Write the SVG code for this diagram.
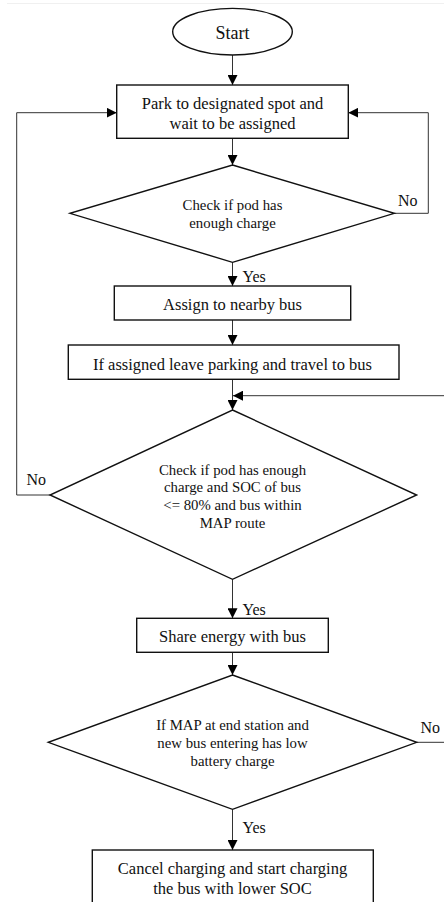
<svg xmlns="http://www.w3.org/2000/svg" width="444" height="902" viewBox="0 0 444 902">
<defs>
<marker id="ah" viewBox="0 0 10 10" refX="10" refY="5" markerWidth="10" markerHeight="10" markerUnits="userSpaceOnUse" orient="auto">
<path d="M0,0 L10,5 L0,10 z" fill="#000"/>
</marker>
<style>
.n{fill:#fff;stroke:#111;stroke-width:1.4}
.c{fill:none;stroke:#333;stroke-width:1}
.t{font-family:"Liberation Serif","Times New Roman",serif;fill:#111;text-anchor:middle;dominant-baseline:central}
.b{font-size:16.5px}
.d{font-size:14.8px}
.l{font-family:"Liberation Serif","Times New Roman",serif;fill:#111;font-size:16px;dominant-baseline:central}
</style>
</defs>
<rect width="444" height="902" fill="#fff"/>
<line x1="7" y1="3.5" x2="444" y2="3.5" stroke="#f0f0f0" stroke-width="1"/>
<g id="connectors">
<line class="c" x1="232.5" y1="55" x2="232.5" y2="85" marker-end="url(#ah)"/>
<line class="c" x1="232.5" y1="138.3" x2="232.5" y2="165" marker-end="url(#ah)"/>
<polyline class="c" points="394.3,213.3 428.3,213.3 428.3,112.7 348.3,112.7" marker-end="url(#ah)"/>
<line class="c" x1="232.5" y1="262.3" x2="232.5" y2="286" marker-end="url(#ah)"/>
<line class="c" x1="232.5" y1="320" x2="232.5" y2="345" marker-end="url(#ah)"/>
<line class="c" x1="232.5" y1="379.3" x2="232.5" y2="410" marker-end="url(#ah)"/>
<polyline class="c" points="50,495 16.7,495 16.7,112.7 116.7,112.7" marker-end="url(#ah)"/>
<line class="c" x1="232.5" y1="579.3" x2="232.5" y2="618.3" marker-end="url(#ah)"/>
<line class="c" x1="232.5" y1="652.3" x2="232.5" y2="675" marker-end="url(#ah)"/>
<polyline class="c" points="416.7,742.3 452,742.3 452,395.7 233,395.7" marker-end="url(#ah)"/>
<line class="c" x1="232.5" y1="809.3" x2="232.5" y2="850" marker-end="url(#ah)"/>
<text class="l" x="398" y="200">No</text>
<text class="l" x="242.5" y="276">Yes</text>
<text class="l" x="26.5" y="479.5">No</text>
<text class="l" x="242.5" y="609.5">Yes</text>
<text class="l" x="420.5" y="727.5">No</text>
<text class="l" x="242.5" y="827.5">Yes</text>
</g>
<g id="start">
<ellipse class="n" cx="232.5" cy="31.7" rx="59.8" ry="23.3"/>
<text class="t" x="232.5" y="33" font-size="18">Start</text>
</g>
<g id="park">
<rect class="n" x="116.7" y="85" width="231.6" height="53.3"/>
<text class="t b" x="232.5" y="103.5">Park to designated spot and</text>
<text class="t b" x="232.5" y="123.5">wait to be assigned</text>
</g>
<g id="check1">
<polygon class="n" points="232.5,165 394.3,213.3 232.5,262.3 70,213.3"/>
<text class="t d" x="232.5" y="205">Check if pod has</text>
<text class="t d" x="232.5" y="223">enough charge</text>
</g>
<g id="assign">
<rect class="n" x="114.3" y="286" width="236.4" height="34"/>
<text class="t b" x="232.5" y="304.5">Assign to nearby bus</text>
</g>
<g id="leave">
<rect class="n" x="68.3" y="345" width="330.7" height="34.3"/>
<text class="t b" x="232.5" y="364">If assigned leave parking and travel to bus</text>
</g>
<g id="check2">
<polygon class="n" points="232.5,410 416.7,495 232.5,579.3 50,495"/>
<text class="t d" x="232.5" y="469.5">Check if pod has enough</text>
<text class="t d" x="232.5" y="487">charge and SOC of bus</text>
<text class="t d" x="232.5" y="504.5">&lt;= 80% and bus within</text>
<text class="t d" x="232.5" y="522.5">MAP route</text>
</g>
<g id="share">
<rect class="n" x="136.7" y="618.3" width="191.6" height="34"/>
<text class="t b" x="232.5" y="636">Share energy with bus</text>
</g>
<g id="check3">
<polygon class="n" points="232.5,675 416.7,742.3 232.5,809.3 48.3,742.3"/>
<text class="t d" x="232.5" y="725">If MAP at end station and</text>
<text class="t d" x="232.5" y="743">new bus entering has low</text>
<text class="t d" x="232.5" y="761">battery charge</text>
</g>
<g id="cancel">
<rect class="n" x="92.3" y="850" width="281" height="70"/>
<text class="t b" x="232.5" y="868">Cancel charging and start charging</text>
<text class="t b" x="232.5" y="888.5">the bus with lower SOC</text>
</g>
</svg>
